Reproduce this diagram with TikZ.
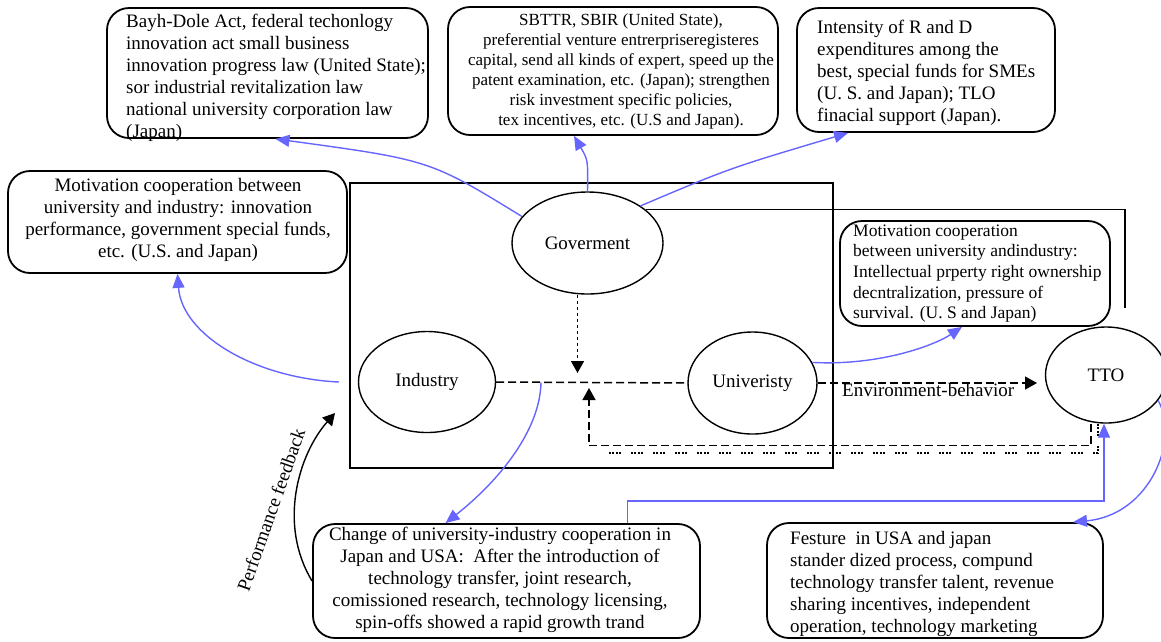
\documentclass[tikz,border=0pt]{standalone}
\usepackage{fontspec}
\setmainfont{Liberation Serif}
\usetikzlibrary{arrows.meta,shapes.geometric}
\definecolor{lblue}{RGB}{102,102,255}
\begin{document}
\begin{tikzpicture}[x=1pt,y=-1pt,
  box/.style={draw,line width=1.8pt,rounded corners=22pt,inner sep=0pt},
  ell/.style={draw,ellipse,line width=1.4pt,inner sep=0pt,font=\fontsize{19}{22}\selectfont},
  txt/.style={inner sep=0pt,font=\fontsize{19}{22}\selectfont},
  smalltxt/.style={inner sep=0pt,font=\fontsize{17}{20}\selectfont},
  midtxt/.style={inner sep=0pt,font=\fontsize{17.5}{20.7}\selectfont},
  bl/.style={draw=lblue,line width=1.4pt,-{Triangle[length=14pt,width=12pt]}},
  bk/.style={line width=1.4pt,-{Triangle[length=12pt,width=13pt]}},
  dsh/.style={line width=1.5pt,dash pattern=on 8pt off 4pt},
  dtt/.style={line width=1.5pt,dash pattern=on 3pt off 3pt},
  grp/.style={line width=1.5pt,dash pattern=on 2pt off 1.5pt on 2pt off 1.5pt on 2pt off 1.5pt on 2pt off 9.5pt},
]
\useasboundingbox (0,0) rectangle (1161,641);

% big frame
\draw[line width=1.8pt] (350,183) rectangle (833,468);

% ellipses
\node[ell,minimum width=151pt,minimum height=102pt] (gov) at (587.5,243) {Goverment};
\node[ell,minimum width=137pt,minimum height=101pt] (ind) at (427,382) {Industry};
\node[ell,minimum width=129pt,minimum height=102pt] (univ) at (752.5,383) {Univeristy};
\node[ell,minimum width=121pt,minimum height=96pt] (tto) at (1106,375) {TTO};

% boxes
\node[box,minimum width=321pt,minimum height=130pt] (bayh) at (267.5,73) {};
\node[box,minimum width=330pt,minimum height=128pt] (sbttr) at (613,71) {};
\node[box,minimum width=258pt,minimum height=124pt] (inten) at (926,70) {};
\node[box,minimum width=339pt,minimum height=102pt] (leftmot) at (177.5,222) {};
\node[box,minimum width=270pt,minimum height=105pt] (rightmot) at (975,273.5) {};
\node[box,minimum width=387pt,minimum height=114pt] (change) at (506.5,581) {};
\node[box,minimum width=336pt,minimum height=115pt] (festure) at (935,580.5) {};

% box texts
\node[txt,align=left,anchor=north west] (bayhT) at (126,11.6) {\strut Bayh-Dole Act, federal techonlogy\\innovation act small business\\innovation progress law (United State);\\sor industrial revitalization law\\national university corporation law\\(Japan)};
\node[smalltxt,align=center,anchor=north] (sbttrT) at (621,11) {\strut SBTTR, SBIR (United State),\\preferential venture entrerpriseregisteres\\capital, send all kinds of expert, speed up the\\patent examination, etc. (Japan); strengthen\\risk investment specific policies,\\tex incentives, etc. (U.S and Japan).};
\node[txt,align=left,anchor=north west] (intenT) at (817,17.6) {\strut Intensity of R and D\\expenditures among the\\best, special funds for SMEs\\(U. S. and Japan); TLO\\finacial support (Japan).};
\node[txt,align=center,anchor=north] (leftmotT) at (178,175.6) {\strut Motivation cooperation between\\university and industry: innovation\\performance, government special funds,\\etc. (U.S. and Japan)};
\node[midtxt,align=left,anchor=north west] (rightmotT) at (853,221.5) {\strut Motivation cooperation\\between university andindustry:\\Intellectual prperty right ownership\\decntralization, pressure of\\survival. (U. S and Japan)};
\node[txt,align=center,anchor=north] (changeT) at (500,525.2) {\strut Change of university-industry cooperation in\\Japan and USA:\ \ After the introduction of\\technology transfer, joint research,\\comissioned research, technology licensing,\\spin-offs showed a rapid growth trand};
\node[txt,align=left,anchor=north west] (festureT) at (790,528.6) {\strut Festure\ \ in USA and japan\\stander dized process, compund\\technology transfer talent, revenue\\sharing incentives, independent\\operation, technology marketing};

% coordinates for free ends
\coordinate (gend) at (1125,308);
\coordinate (gtip) at (577.5,373);
\coordinate (ftip) at (589,388);
\coordinate (dend) at (602,453);
\coordinate (etip) at (1037,383);
\coordinate (iu) at (541,382.5);
\coordinate (ptip) at (335,413);

% black connectors
\draw[line width=1.3pt] (gov.30) -| (gend);
\draw[dsh] (ind.east) -- (univ.west);
\draw[dtt,-{Triangle[length=12pt,width=13pt]}] ([xshift=-10pt]gov.south) -- (gtip);
\draw[dsh,-{Triangle[length=12pt,width=13pt]}] ([xshift=-15pt]tto.south) -- ++(0,22) -| (ftip);
\draw[grp] ([xshift=-8pt]tto.south) |- (dend);
\draw[dsh,-{Triangle[length=12pt,width=13pt]}] (univ.east) -- (etip);
\node[txt,anchor=base west] (envlbl) at (842,396) {Environment-behavior};
\draw[bk] (change.west) .. controls (278,525) and (298,455) .. (ptip);
\node[txt,rotate=70.5] (perf) at (271,510) {Performance feedback};

% blue connectors
\draw[bl] (gov.158) .. controls (430,160) .. ([xshift=8pt]bayh.south);
\draw[bl] (gov.north) .. controls (588,160) .. ([xshift=-39pt]sbttr.south);
\draw[bl] (gov.35) .. controls (730,168) .. ([xshift=-78pt]inten.south);
\draw[bl] ([xshift=-19pt]ind.west) .. controls (255,378) and (182,335) .. (leftmot.south);
\draw[bl] (iu) .. controls (540,430) and (500,480) .. ([xshift=-61pt]change.north);
\draw[bl] (univ.19) .. controls (880,366) and (935,345) .. ([xshift=-13pt]rightmot.south);
\draw[bl] ([xshift=121pt]change.north) -- ++(0,-22) -| ([xshift=-2pt]tto.south);
\draw[bl] (tto.-26) .. controls (1180,440) and (1150,515) .. ([xshift=138pt]festure.north);
\end{tikzpicture}
\end{document}
